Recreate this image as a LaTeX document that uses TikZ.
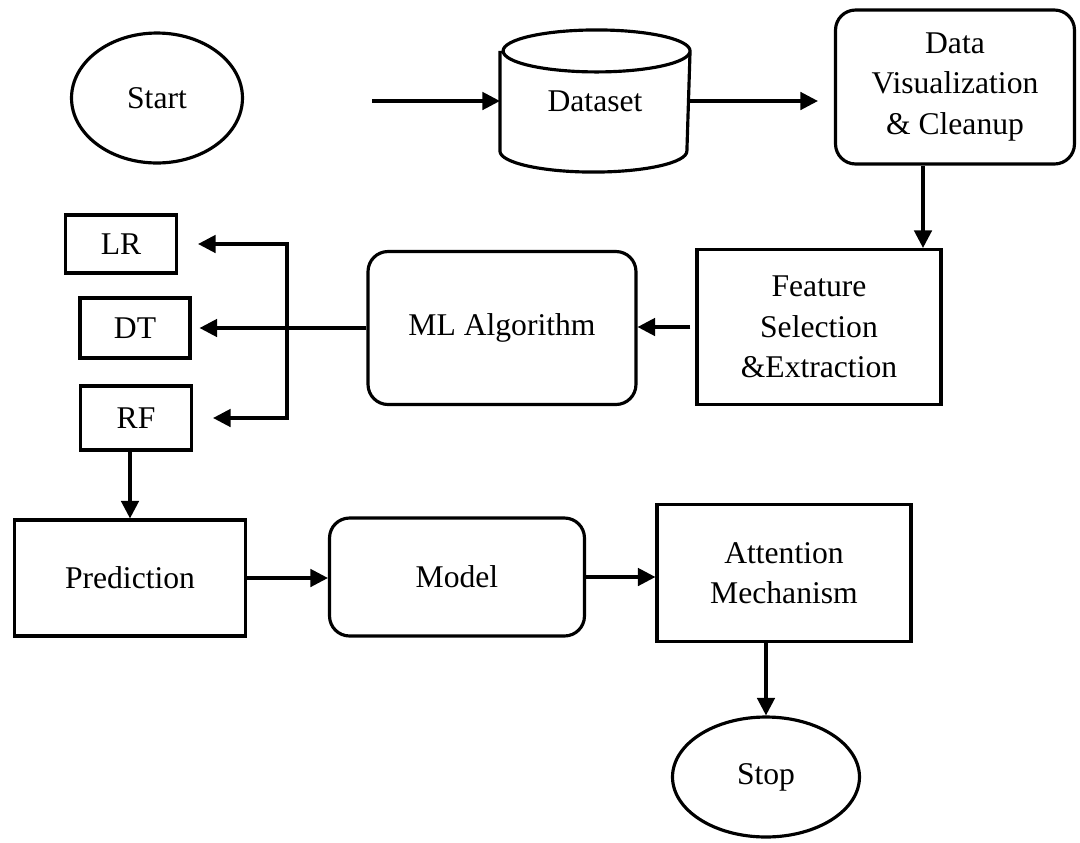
\documentclass[tikz,border=0pt]{standalone}
\usepackage{fontspec}
\setmainfont{Liberation Serif}
\usetikzlibrary{arrows.meta,shapes.geometric}

\begin{document}
\begin{tikzpicture}
  [x=.02cm,y=-.02cm,line width=1.8pt,
   font=\fontsize{18}{23}\selectfont,
   box/.style={draw,rectangle,align=center,inner sep=0pt},
   rbox/.style={box,rounded corners=.4cm},
   oval/.style={draw,ellipse,inner sep=0pt},
   arr/.style={-{Triangle[length=10pt,width=10pt]}}]
  \useasboundingbox (0,0) rectangle (1080,843);
  % các khối
  \node[oval,minimum width=3.42cm,minimum height=2.6cm] (start) at (157,98) {Start};
  \node[minimum width=3.74cm,minimum height=1.94cm,inner sep=0pt] (dataset) at (595,101) {Dataset};
  \node[rbox,minimum width=4.78cm,minimum height=3.08cm] (clean) at (955,87) {Data\\Visualization\\\& Cleanup};
  \node[box,minimum width=4.88cm,minimum height=3.1cm] (feat) at (819,327) {Feature\\Selection\\\&Extraction};
  \node[rbox,minimum width=5.36cm,minimum height=3.06cm] (ml) at (502,328) {ML Algorithm};
  \node[box,minimum width=2.22cm,minimum height=1.16cm] (lr) at (121,244) {LR};
  \node[box,minimum width=2.2cm,minimum height=1.2cm] (dt) at (135,328) {DT};
  \node[box,minimum width=2.22cm,minimum height=1.28cm] (rf) at (136,418) {RF};
  \node[box,minimum width=4.62cm,minimum height=2.32cm] (pred) at (130,578) {Prediction};
  \node[rbox,minimum width=5.1cm,minimum height=2.36cm] (model) at (457,577) {Model};
  \node[box,minimum width=5.08cm,minimum height=2.74cm] (att) at (784,573) {Attention\\Mechanism};
  \node[oval,minimum width=3.74cm,minimum height=2.4cm] (stop) at (766,777) {Stop};
  % hình trụ
  \draw (dataset.north west) -- (dataset.south west)
  arc[start angle=180,end angle=360,x radius=1.87cm,y radius=.42cm]
  -- (dataset.north east)
  arc[start angle=0,end angle=180,x radius=1.87cm,y radius=.42cm]
  arc[start angle=180,end angle=360,x radius=1.87cm,y radius=.42cm];
  \path (372,101) coordinate (in)
  (287,328) coordinate (br);
  % các mũi tên
  \draw[arr] (in) -- (dataset.west);
  \draw[arr,shorten >=.32cm] (dataset.east) -- (dataset.east -| clean.west);
  \draw[arr] ([xshift=-.64cm]clean.south) -- ([xshift=-.64cm]clean.south |- feat.north);
  \draw[arr,shorten <=.1cm] (feat.west) -- (feat.west -| ml.east);
  \draw[arr,shorten >=.16cm] (ml.west) -- (ml.west -| dt.east);
  \foreach \p in {lr,rf}
  \draw[arr,shorten >=.4cm] (br) |- (\p.east);
  \draw[arr] (pred.north |- rf.south) -- (pred.north);
  \draw[arr] (pred.east) -- (pred.east -| model.west);
  \draw[arr] (model.east) -- (model.east -| att.west);
  \draw[arr] (stop.north |- att.south) -- (stop.north);
\end{tikzpicture}
\end{document}
